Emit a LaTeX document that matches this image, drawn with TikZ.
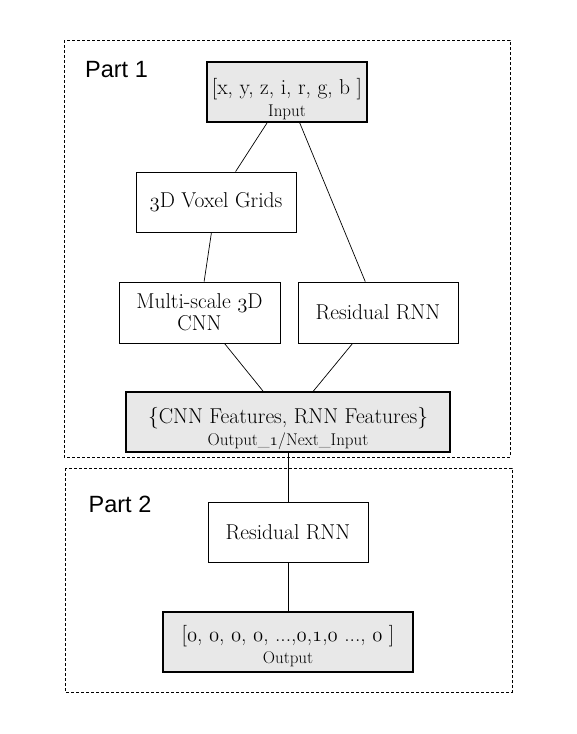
\documentclass[tikz,border=0pt]{standalone}
\usepackage{fontspec}
\newfontfamily\partfont{Liberation Sans}
\usetikzlibrary{positioning}
\definecolor{boxgray}{HTML}{E8E8E8}
\newcommand{\osnum}[1]{{\usefont{OML}{cmm}{m}{it}#1}}
\newcommand{\smalltxt}{\fontsize{17}{19}\selectfont}
\newcommand{\dropline}[1][26pt]{\rule{0pt}{#1}}

\begin{document}
\begin{tikzpicture}[x=1pt, y=-1pt,
    box/.style={rectangle, draw, line width=0.8pt, minimum width=160pt, minimum height=60pt, inner sep=0pt, align=center, font=\fontsize{21.5}{22}\selectfont},
    iobox/.style={box, fill=boxgray, line width=2pt},
    link/.style={line width=0.7pt},
    partframe/.style={line width=0.7pt, dash pattern=on 3pt off 2pt},
    partlabel/.style={font=\partfont\fontsize{23.5}{25}\selectfont, inner sep=0pt}]

    \fill[white] (0,0) rectangle (576,734);

    % Part frames
    \draw[partframe] (64,40) rectangle (510,457);
    \draw[partframe] (65,468) rectangle (512,692);
    \node[partlabel] (partone) at (116.5,70) {Part 1};
    \node[partlabel] (parttwo) at (120,504.5) {Part 2};

    % Nodes
    \node[iobox] (input) at (287,92) {\dropline[30pt][x, y, z, i, r, g, b ]\\{\smalltxt Input}};
    \node[box] (voxel) at (216,202) {\osnum{3}D Voxel Grids};
    \node[box, minimum width=161pt, minimum height=61pt] (cnn) at (199.5,312.5) {Multi-scale \osnum{3}D\\CNN};
    \node[box, minimum height=61pt] (rnn) at (378,312.5) {Residual RNN};
    \node[iobox, minimum width=324pt] (features) at (288,422) {\dropline[29pt]\{CNN Features, RNN Features\}\\{\smalltxt Output\_\osnum{1}/Next\_Input}};
    \node[box] (rnntwo) at (288,532) {Residual RNN};
    \node[iobox, minimum width=250pt] (output) at (288,642) {\dropline[24pt][\osnum{0}, \osnum{0}, \osnum{0}, \osnum{0}, ...,\osnum{0},\osnum{1},\osnum{0} ..., \osnum{0} ]\\{\smalltxt Output}};

    % Connectors
    \draw[link] (input) -- (voxel);
    \draw[link] (input) -- (rnn);
    \draw[link] (voxel) -- (cnn);
    \draw[link] (cnn) -- (features);
    \draw[link] (rnn) -- (features);
    \draw[link] (features) -- (rnntwo);
    \draw[link] (rnntwo) -- (output);

\end{tikzpicture}
\end{document}
